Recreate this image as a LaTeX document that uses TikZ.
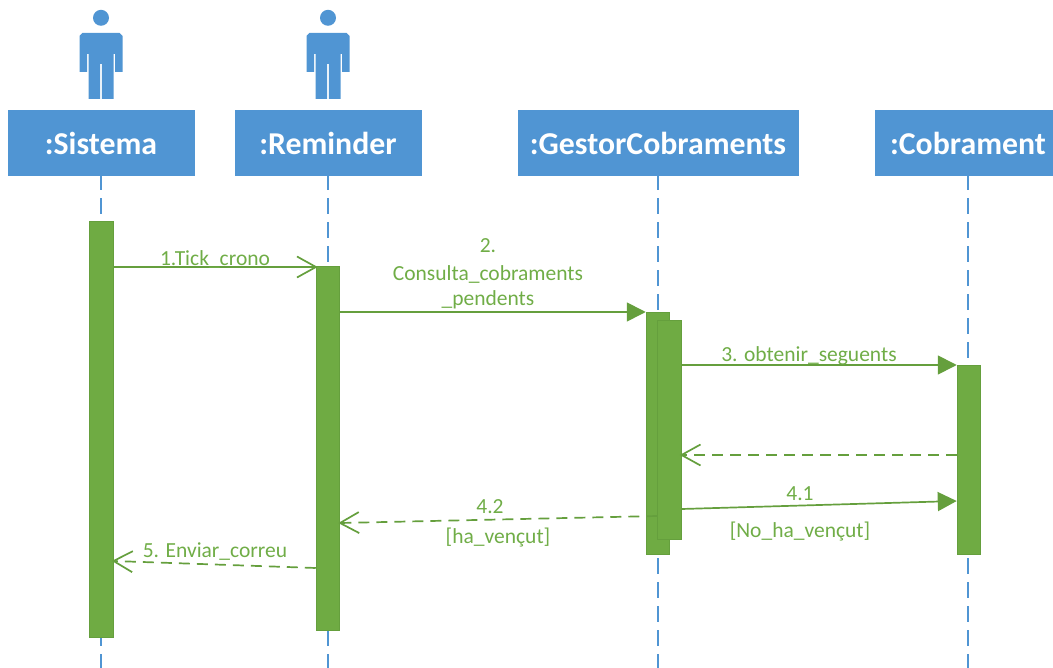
\documentclass[tikz,border=0pt]{standalone}
\usepackage{fontspec}
\setmainfont{Carlito}
\usetikzlibrary{arrows.meta}
\definecolor{headblue}{HTML}{5095D3}
\definecolor{barfill}{HTML}{6FAB43}
\definecolor{barline}{HTML}{659F3D}
\definecolor{msgtext}{HTML}{70AD47}
\tikzset{
    headbox/.style={fill=headblue, text=white, font=\fontsize{31.8}{33}\selectfont\bfseries, minimum height=66pt, inner sep=0pt},
    lifeline/.style={headblue, line width=1.6pt, dash pattern=on 16pt off 8pt, dash phase=2pt},
    activebar/.style={draw=barline, fill=barfill, line width=1pt, minimum width=23.5pt, inner sep=0pt, anchor=north},
    msgcall/.style={barline, line width=1.7pt, -{Triangle[length=19pt,width=19pt]}},
    msgopen/.style={barline, line width=1.7pt, shorten >=-2pt, -{Straight Barb[length=19pt,width=21pt,line width=1.7pt]}},
    msgback/.style={msgopen, dash pattern=on 11pt off 7pt},
    msglabel/.style={text=msgtext, font=\fontsize{21.5}{23}\selectfont, inner sep=0pt},
    actor/.pic={
        \fill[headblue] (0,-83) circle (8);
        \fill[headblue] (-21.5,-65) -- (-18.5,-68) -- (18.5,-68) -- (21.5,-65) -- (21.5,-29) -- (14,-29) -- (14,-47) -- (12.5,-47) -- (12.5,-2) -- (0.8,-2) -- (0.8,-37) -- (-0.8,-37) -- (-0.8,-2) -- (-12.5,-2) -- (-12.5,-47) -- (-14,-47) -- (-14,-29) -- (-21.5,-29) -- cycle;
    }
}
\begin{document}
\begin{tikzpicture}[x=1pt, y=-1pt]
    \clip (0,0) rectangle (1053,668);

    % Lifelines and head boxes
    \foreach \lx/\lname/\lwidth/\ltext in {101/sistema/187/{:Sistema}, 328/reminder/187/{:Reminder}, 658/gestor/281/{:GestorCobraments}, 968/cobrament/187/{:Cobrament}} {
        \node[headbox, minimum width=\lwidth pt] (\lname) at (\lx, 143) {\ltext};
        \coordinate (\lname End) at (\lx, 668);
        \draw[lifeline] (\lname.south) -- (\lname End);
    }

    % Actors above the first two boxes
    \foreach \lname in {sistema, reminder} {
        \pic at ([yshift=9pt]\lname.north) {actor};
    }

    % Activation bars
    \node[activebar, minimum height=415pt] (barSistema) at (101.5, 221.5) {};
    \node[activebar, minimum height=363pt] (barReminder) at (328, 266.5) {};
    \node[activebar, minimum height=242pt] (barGestor) at (658, 312) {};
    \node[activebar, minimum height=219pt] (barGestorIn) at (669.5, 320) {};
    \node[activebar, minimum height=189pt] (barCobrament) at (969, 365) {};

    % Messages
    \draw[msgopen] ([yshift=-45.5pt]barSistema.north east) -- ([yshift=-0.5pt]barReminder.north west);
    \draw[msgcall] ([yshift=-45.5pt]barReminder.north east) -- (barGestor.north west);
    \draw[msgcall] ([yshift=-45pt]barGestorIn.north east) -- (barCobrament.north west);
    \draw[msgback] ([yshift=-90pt]barCobrament.north west) -- ([yshift=-135pt]barGestorIn.north east);
    \draw[msgcall] ([yshift=-189pt]barGestorIn.north east) -- ([yshift=-136pt]barCobrament.north west);
    \draw[msgback] ([yshift=-196pt]barGestorIn.north west) -- ([yshift=-256.5pt]barReminder.north east);
    \draw[msgback] ([yshift=-301.5pt]barReminder.north west) -- ([yshift=-339.5pt]barSistema.north east);

    % Message labels
    \foreach \tx/\ty/\lname/\ttext in {215/259/lblTick/{1.Tick\_crono}, 488/246/lblDos/{2.}, 488/274/lblConsulta/{Consulta\_cobraments}, 488/300/lblPendents/{\_pendents}, 809/356/lblObtenir/{3. obtenir\_seguents}, 800/494/lblQuatreU/{4.1}, 800/532/lblNoVencut/{[No\_ha\_vençut]}, 490/507/lblQuatreD/{4.2}, 498/538/lblVencut/{[ha\_vençut]}, 215/552/lblEnviar/{5. Enviar\_correu}} {
        \node[msglabel] (\lname) at (\tx, \ty) {\ttext};
    }
\end{tikzpicture}
\end{document}
